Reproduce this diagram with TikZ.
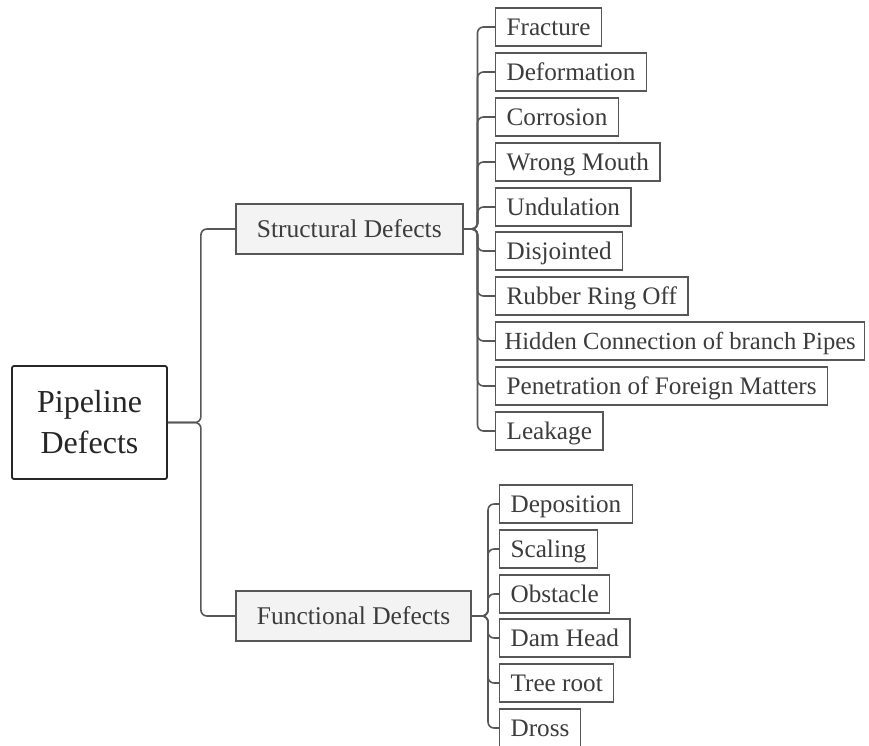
\documentclass[tikz,border=0pt]{standalone}
\usepackage{fontspec}
\setmainfont{Liberation Serif}
\definecolor{tgray}{HTML}{3C3C3C}
\definecolor{lgray}{HTML}{575757}
\definecolor{boxfill}{HTML}{F3F3F3}
\begin{document}
\begin{tikzpicture}[x=1pt,y=1pt,
  leaf/.style={draw=lgray, line width=1.2pt, fill=white, inner xsep=11pt, inner ysep=0pt,
    minimum height=38pt, text height=16.5pt, text depth=0pt, anchor=west, text=tgray,
    font=\fontsize{25.2}{29}\selectfont},
  midbox/.style={draw=lgray, line width=1.7pt, fill=boxfill, inner xsep=21pt, inner ysep=0pt,
    minimum height=50pt, text height=17pt, text depth=0pt, anchor=west, text=tgray,
    font=\fontsize{25.5}{30}\selectfont},
  rootbox/.style={draw=black!85, line width=1.8pt, rounded corners=2pt, fill=white,
    minimum width=155pt, minimum height=113pt, align=center, text=black!85,
    font=\fontsize{32}{41}\selectfont},
  conn/.style={draw=lgray, line width=1.6pt, rounded corners=6pt}]
\useasboundingbox (0,0) rectangle (869,-745);

\node[rootbox] (root) at (89.5,-422.5) {Pipeline\\Defects};
\node[midbox] (s) at (235,-229) {Structural Defects};
\node[midbox] (f) at (235,-616) {Functional Defects};

\node[leaf] (s1) at (495,-27) {Fracture};
\node[leaf] (s2) at (495,-72) {Deformation};
\node[leaf] (s3) at (495,-117) {Corrosion};
\node[leaf] (s4) at (495,-162) {Wrong Mouth};
\node[leaf] (s5) at (495,-207) {Undulation};
\node[leaf] (s6) at (495,-251) {Disjointed};
\node[leaf] (s7) at (495,-296) {Rubber Ring Off};
\node[leaf, font=\fontsize{24.6}{29}\selectfont, inner xsep=9pt] (s8) at (495,-341) {Hidden Connection of branch Pipes};
\node[leaf] (s9) at (495,-386) {Penetration of Foreign Matters};
\node[leaf] (s10) at (495,-431) {Leakage};

\node[leaf] (f1) at (499,-504) {Deposition};
\node[leaf] (f2) at (499,-549) {Scaling};
\node[leaf] (f3) at (499,-594) {Obstacle};
\node[leaf] (f4) at (499,-638) {Dam Head};
\node[leaf] (f5) at (499,-683) {Tree root};
\node[leaf] (f6) at (499,-728) {Dross};

\foreach \c in {s,f} \draw[conn] (root.east) -- ++(33,0) |- (\c.west);
\foreach \i in {1,...,10} \draw[conn] (s.east) -- ++(14,0) |- (s\i.west);
\foreach \i in {1,...,6} \draw[conn] (f.east) -- ++(16,0) |- (f\i.west);
\end{tikzpicture}
\end{document}
